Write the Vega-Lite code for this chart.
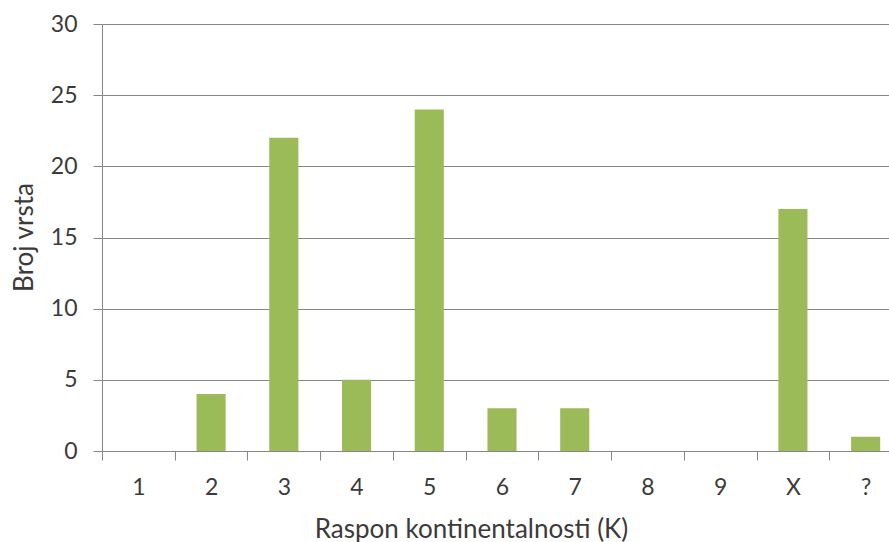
{
  "$schema": "https://vega.github.io/schema/vega-lite/v6.json",
  "width": 787,
  "height": 427,
  "autosize": "none",
  "padding": {"left": 102, "top": 24, "right": 0, "bottom": 91},
  "background": "white",
  "config": {"view": {"stroke": null}, "font": "Lato"},
  "data": {
    "values": [
      {"K": "1", "n": 0},
      {"K": "2", "n": 4},
      {"K": "3", "n": 22},
      {"K": "4", "n": 5},
      {"K": "5", "n": 24},
      {"K": "6", "n": 3},
      {"K": "7", "n": 3},
      {"K": "8", "n": 0},
      {"K": "9", "n": 0},
      {"K": "X", "n": 17},
      {"K": "?", "n": 1}
    ]
  },
  "mark": {"type": "bar", "color": "#9BBB59", "clip": false, "width": {"band": 0.4}},
  "encoding": {
    "x": {
      "field": "K",
      "type": "ordinal",
      "sort": null,
      "scale": {"paddingInner": 0, "paddingOuter": 0, "range": [0, 800]},
      "axis": {
        "title": "Raspon kontinentalnosti (K)",
        "titleFontSize": 26,
        "titleFontWeight": "normal",
        "titleColor": "#3b3b3b",
        "titleX": 369,
        "titleY": 86,
        "titleAlign": "center",
        "titleBaseline": "alphabetic",
        "labelAngle": 0,
        "labelFontSize": 23,
        "labelColor": "#3b3b3b",
        "labelPadding": 16,
        "tickBand": "extent",
        "tickSize": 9,
        "tickColor": "#868686",
        "domainColor": "#868686",
        "grid": false
      }
    },
    "y": {
      "field": "n",
      "type": "quantitative",
      "scale": {"domain": [0, 30], "nice": false},
      "axis": {
        "title": "Broj vrsta",
        "titleFontSize": 26,
        "titleFontWeight": "normal",
        "titleColor": "#3b3b3b",
        "titleX": -70,
        "titleY": 213,
        "titleAlign": "center",
        "titleBaseline": "alphabetic",
        "values": [0, 5, 10, 15, 20, 25, 30],
        "labelFontSize": 23,
        "labelColor": "#3b3b3b",
        "labelPadding": 16,
        "tickSize": 9,
        "tickColor": "#868686",
        "domainColor": "#868686",
        "grid": true,
        "gridColor": "#868686",
        "gridOpacity": 1
      }
    }
  }
}
